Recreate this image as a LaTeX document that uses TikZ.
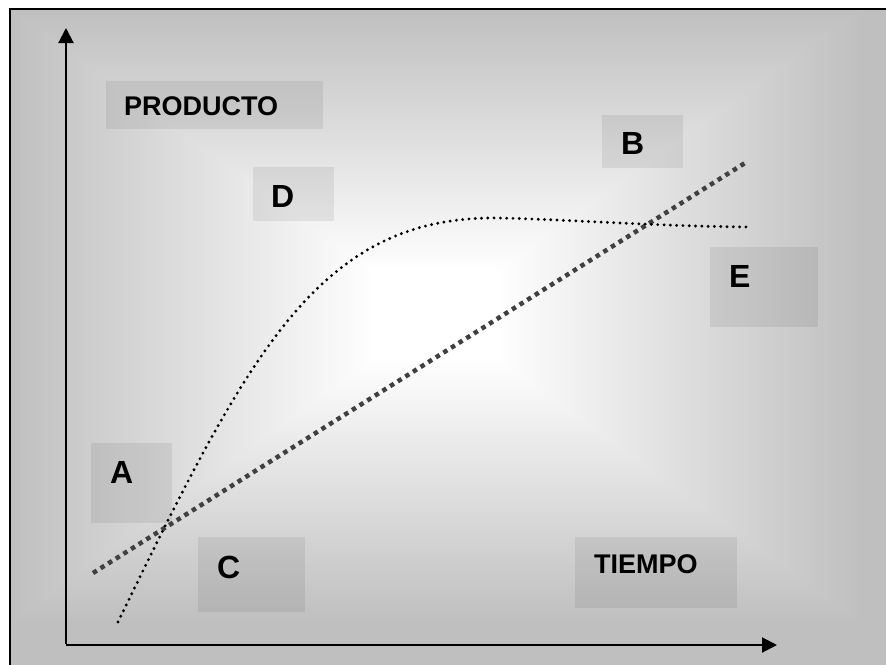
\documentclass[tikz,border=0pt]{standalone}
\usepackage{fontspec}
\setmainfont{Liberation Sans}
\usetikzlibrary{arrows.meta}
\definecolor{framegray}{RGB}{191,191,191}
\definecolor{trendgray}{RGB}{64,64,64}
\pgfdeclarefunctionalshading{rectglow}{\pgfpoint{-50bp}{-50bp}}{\pgfpoint{50bp}{50bp}}{}{
  abs 25 div exch abs 25 div
  2 copy lt {exch} if pop
  dup 1 gt {pop 1} if
  0.29 mul neg 1.04 add
  dup 1 gt {pop 1} if
  dup dup
}
\tikzset{
  tbox/.style={fill=black, fill opacity=0.07, draw=none, inner sep=0pt, anchor=north west},
  word/.style={font=\fontsize{27}{31}\selectfont\bfseries, inner sep=0pt, anchor=base west},
  letter/.style={font=\fontsize{32}{36}\selectfont\bfseries, inner sep=0pt, anchor=base west},
  axis/.style={line width=2pt, -{Triangle[length=15pt,width=15pt]}},
  trend/.style={draw=trendgray, line width=4.5pt, dash pattern=on 4.5pt off 4.5pt},
  growth/.style={draw=black, line width=3.2pt, line cap=round, dash pattern=on 0pt off 6.3pt}
}
\begin{document}
\begin{tikzpicture}[x=1pt,y=-1pt]
  \useasboundingbox (0,0) rectangle (886,664);

  % background panel
  \fill[framegray] (10,9) rectangle (900,680);
  \shade[shading=rectglow] (10,9) rectangle (860,621);
  \draw[line width=2.5pt] (10,9) rectangle (900,680);

  % label boxes
  \node[tbox, minimum width=217pt, minimum height=48pt] (boxprod) at (106,81) {};
  \node[tbox, minimum width=162pt, minimum height=71pt] (boxtiempo) at (575,537) {};
  \node[tbox, minimum width=81pt, minimum height=80pt] (boxA) at (91,443) {};
  \node[tbox, minimum width=81pt, minimum height=53pt] (boxB) at (602,115) {};
  \node[tbox, minimum width=107pt, minimum height=75pt] (boxC) at (198,537) {};
  \node[tbox, minimum width=81pt, minimum height=54pt] (boxD) at (253,167) {};
  \node[tbox, minimum width=108pt, minimum height=80pt] (boxE) at (710,247) {};

  \node[word] (producto) at (124,115) {PRODUCTO};
  \node[word] (tiempo) at (594,573) {TIEMPO};
  \node[letter] (ptA) at (110,483) {A};
  \node[letter] (ptB) at (621,154) {B};
  \node[letter] (ptC) at (217,578) {C};
  \node[letter] (ptD) at (271,207) {D};
  \node[letter] (ptE) at (729,287) {E};

  % axes
  \coordinate (origin) at (66,645);
  \coordinate (ytip) at (66,28);
  \coordinate (xtip) at (777,645);
  \draw[axis] ([yshift=1pt]origin) -- (ytip);
  \draw[axis] (origin) -- (xtip);

  % curves
  \coordinate (trendstart) at (93,573);
  \coordinate (trendend) at (745,163);
  \draw[trend] (trendstart) -- (trendend);

  \coordinate (growstart) at (118,622);
  \coordinate (growtop) at (500,218);
  \coordinate (growend) at (750,227);
  \draw[growth] (growstart) .. controls (250,350) and (320,215) .. (growtop)
    .. controls (580,220) and (650,226) .. (growend);
\end{tikzpicture}
\end{document}
